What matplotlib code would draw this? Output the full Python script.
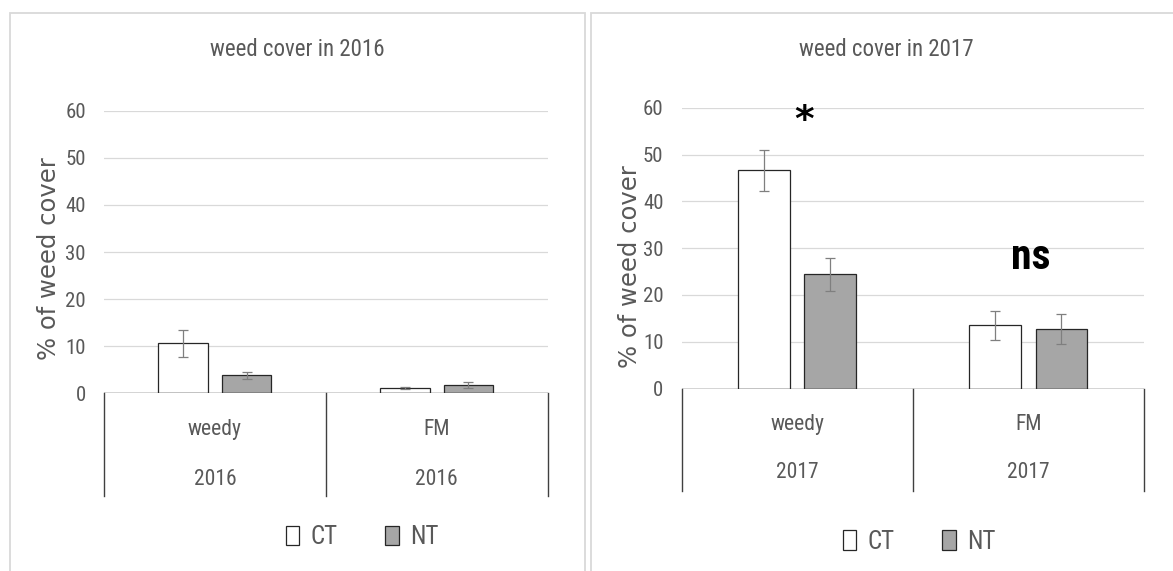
import numpy as np
import matplotlib
matplotlib.use("Agg")
import matplotlib.pyplot as plt
from matplotlib.patches import Rectangle, Patch
import logging

logging.getLogger("matplotlib.font_manager").setLevel(logging.ERROR)

# ---- data -------------------------------------------------------------
groups = ["weedy", "FM"]
years = ["2016", "2017"]
series = ["CT", "NT"]

ct_2016 = [10.6, 1.1]
ct_2016_err = [2.8, 0.15]
nt_2016 = [3.8, 1.8]
nt_2016_err = [0.8, 0.6]

ct_2017 = [46.6, 13.5]
ct_2017_err = [4.45, 3.05]
nt_2017 = [24.4, 12.7]
nt_2017_err = [3.5, 3.25]

yticks = [0, 10, 20, 30, 40, 50, 60]
ylabel = "% of weed cover"
title_fmt = "weed cover in {}"

# ---- styling ----------------------------------------------------------
W, H = 1173, 571
NARROW = ["Roboto Condensed", "Open Sans Condensed", "Liberation Sans Narrow",
          "Lato", "DejaVu Sans"]
WIDE = ["DejaVu Sans"]
TXT = "#595959"
EDGE = "#262626"
GRID = "#d9d9d9"
NT_FILL = "#a6a6a6"

fig = plt.figure(figsize=(W / 100, H / 100), dpi=100)


def frac_rect(x0, y0, x1, y1):
    """Pixel box (top-left origin) -> figure fraction rect."""
    return [x0 / W, 1 - y1 / H, (x1 - x0) / W, (y1 - y0) / H]


# light frames around each chart
for fx0, fx1 in [(9.5, 585.0), (591.0, 1181.0)]:
    fig.add_artist(Rectangle((fx0 / W, -0.05), (fx1 - fx0) / W,
                             1 - 13.3 / H + 0.05, transform=fig.transFigure,
                             fill=False, edgecolor=GRID, lw=1.3))


def panel(rect, year, ct, ct_err, nt, nt_err, title_x, depth, rows,
          ylab_xy, legend_xy):
    ax = fig.add_axes(rect)
    x = np.arange(len(groups))
    off, w = 0.143, 0.224

    ax.bar(x - off, ct, w, color="white", edgecolor=EDGE, lw=0.9, zorder=3)
    ax.bar(x + off, nt, w, color=NT_FILL, edgecolor=EDGE, lw=0.9, zorder=3)
    ax.errorbar(x - off, ct, yerr=ct_err, fmt="none", ecolor="#7f7f7f",
                elinewidth=0.9, capsize=3.5, capthick=0.9, zorder=4)
    ax.errorbar(x + off, nt, yerr=nt_err, fmt="none", ecolor="#7f7f7f",
                elinewidth=0.9, capsize=3.5, capthick=0.9, zorder=4)

    ax.set_xlim(-0.5, 1.5)
    ax.set_ylim(0, 60)
    ax.set_yticks(yticks)
    ax.yaxis.grid(True, color=GRID, lw=0.9)
    ax.set_axisbelow(True)
    for s in ax.spines.values():
        s.set_visible(False)
    ax.tick_params(axis="y", length=0, pad=13, labelsize=15, labelcolor=TXT)
    for t in ax.get_yticklabels():
        t.set_family(NARROW)
    ax.set_xticks([])

    # two-level category axis: baseline, dividers, labels
    ax.axhline(0, color="#404040", lw=1.0, zorder=5)
    for xb in [-0.5, 0.5, 1.5]:
        ax.plot([xb, xb], [0, -depth], color="#404040", lw=1.0,
                clip_on=False, zorder=5)
    for i, g in enumerate(groups):
        ax.text(i, -rows[0], g, ha="center", va="center", fontsize=15.5,
                color=TXT, family=NARROW, clip_on=False)
        ax.text(i, -rows[1], year, ha="center", va="center", fontsize=15.5,
                color=TXT, family=NARROW, clip_on=False)

    ax.set_ylabel(ylabel, fontsize=17.5, color=TXT, family=WIDE)
    ax.yaxis.set_label_coords(*ylab_xy)

    fig.text(title_x / W, 1 - 50 / H, title_fmt.format(year),
             ha="center", va="center", fontsize=16.5, color=TXT,
             family=NARROW)

    handles = [Patch(facecolor="white", edgecolor=EDGE, lw=0.9, label=series[0]),
               Patch(facecolor=NT_FILL, edgecolor=EDGE, lw=0.9, label=series[1])]
    ax.legend(handles=handles, ncol=2, loc="center", bbox_to_anchor=legend_xy,
              frameon=False, prop=dict(family=NARROW, size=18),
              labelcolor=TXT, handlelength=0.55, handleheight=0.85,
              handletextpad=0.45, columnspacing=1.9)
    return ax


ax1 = panel(frac_rect(104.0, 110.7, 547.6, 393.3), years[0],
            ct_2016, ct_2016_err, nt_2016, nt_2016_err,
            title_x=297, depth=21.7, rows=(7.7, 18.2),
            ylab_xy=(-0.097, 0.476), legend_xy=(0.582, -0.509))

ax2 = panel(frac_rect(681.5, 107.7, 1144.0, 388.6), years[1],
            ct_2017, ct_2017_err, nt_2017, nt_2017_err,
            title_x=886, depth=21.9, rows=(7.6, 18.0),
            ylab_xy=(-0.085, 0.436), legend_xy=(0.514, -0.546))

# significance marks
ax2.text(0.03, 55.0, "*", ha="center", va="baseline", fontsize=27,
         fontweight="bold", color="black", family=["DejaVu Sans"])
ax2.text(1.01, 25.5, "ns", ha="center", va="baseline", fontsize=30,
         fontweight="heavy", color="black", family=NARROW)

fig.savefig("out.png", dpi=100)
